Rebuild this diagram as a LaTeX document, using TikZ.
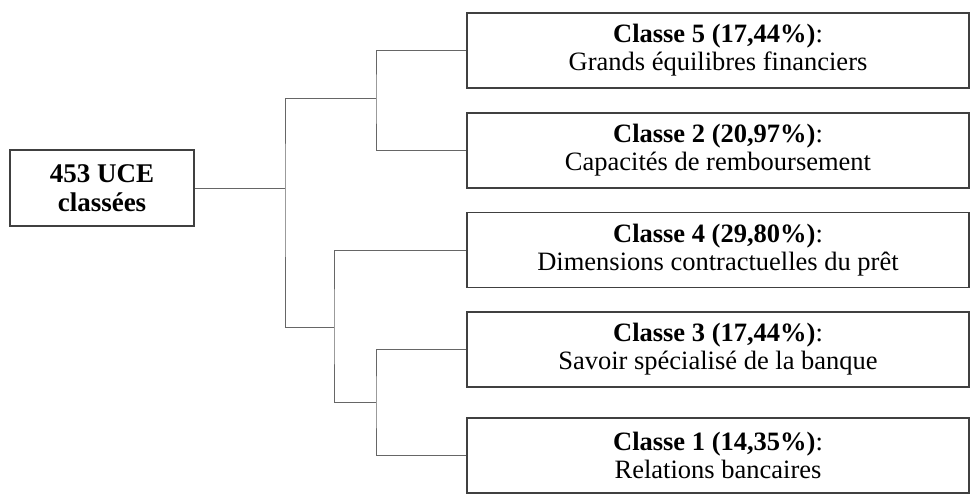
\documentclass[tikz,border=0pt]{standalone}
\usepackage{fontspec}
\setmainfont{Liberation Serif}
\begin{document}
\begin{tikzpicture}[x=1pt,y=-1pt,
  classbox/.style={draw=black!75,line width=1.3pt,minimum width=502pt,minimum height=75pt,inner sep=0pt,align=center,
    font=\fontsize{26.5}{28}\selectfont},
  rootbox/.style={draw=black!75,line width=1.3pt,minimum width=184pt,minimum height=76pt,inner sep=0pt,align=center,
    font=\fontsize{27}{29}\selectfont\bfseries},
  link/.style={draw=black!60,line width=1pt}]
\useasboundingbox (0,0) rectangle (971,498);
\node[rootbox] (root) at (102,188) {453 UCE\\classées};
\node[classbox] (c5) at (718,50.5) {\textbf{Classe 5 (17,44\%)}:\\Grands équilibres financiers};
\node[classbox] (c2) at (718,150.5) {\textbf{Classe 2 (20,97\%)}:\\Capacités de remboursement};
\node[classbox] (c4) at (718,250) {\textbf{Classe 4 (29,80\%)}:\\Dimensions contractuelles du prêt};
\node[classbox] (c3) at (718,349.5) {\textbf{Classe 3 (17,44\%)}:\\Savoir spécialisé de la banque};
\node[classbox] (c1) at (718,455.5) {\textbf{Classe 1 (14,35\%)}:\\Relations bancaires};
\coordinate (u) at (376,98);
\coordinate (m) at (285,188);
\coordinate (l) at (334,327);
\coordinate (d) at (376,402);
\draw[link] (c5.west) -| (u) |- (c2.west);
\draw[link] (u) -| (m) |- (l);
\draw[link] (root.east) -- (m);
\draw[link] (c4.west) -| (l) |- (d);
\draw[link] (c3.west) -| (d) |- (c1.west);
\end{tikzpicture}
\end{document}
